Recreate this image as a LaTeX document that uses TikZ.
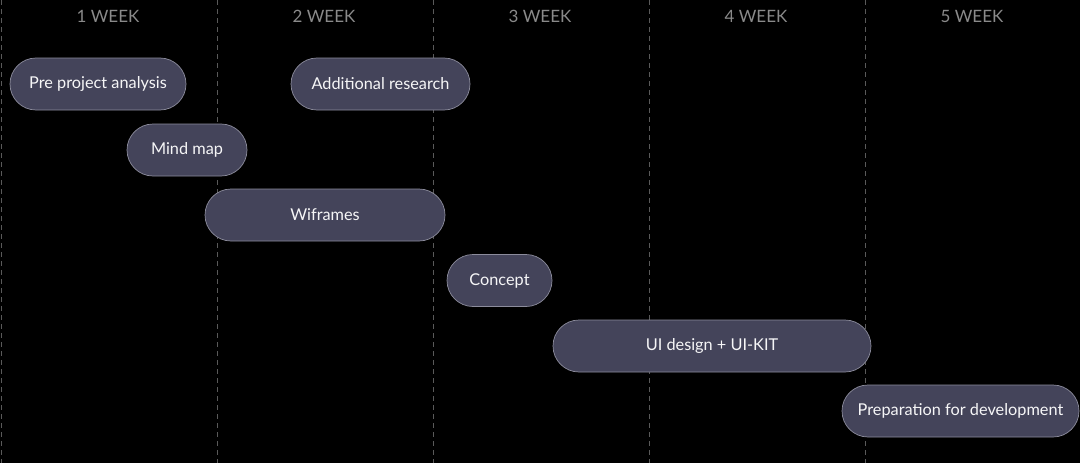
\documentclass[tikz,border=0pt]{standalone}
\usepackage{fontspec}
\setmainfont{Lato}
\definecolor{pill}{HTML}{44445A}
\definecolor{pillline}{HTML}{8C8C9C}
\definecolor{weekgray}{HTML}{8A8A8A}
\definecolor{gridgray}{HTML}{5A5A5A}
\begin{document}
\begin{tikzpicture}[x=1pt, y=-1pt,
  task/.style={draw=pillline, line width=.7pt, fill=pill, text=white!92!pillline,
    rounded corners=26pt, minimum height=52pt, inner sep=0pt, font=\fontsize{16.3}{18}\selectfont},
  week/.style={text=weekgray, font=\fontsize{17}{19}\selectfont}]
\fill[black] (0,0) rectangle (1080,463);
\useasboundingbox (0,0) rectangle (1080,463);
\foreach \i in {0,...,4}{
  \draw[gridgray, line width=.7pt, dash pattern=on 5pt off 4pt] (216*\i+1,0) -- (216*\i+1,463);
  \pgfmathtruncatemacro\n{\i+1}
  \node[week] (w\n) at (216*\i+108,16) {\n\ WEEK};
}
\node[task, minimum width=176pt] (pre) at (98,84) {Pre project analysis};
\node[task, minimum width=179pt] (add) at (380.5,84) {Additional research};
\node[task, minimum width=120pt] (mind) at (187,150) {Mind map};
\node[task, minimum width=240pt] (wire) at (325,215) {Wiframes};
\node[task, minimum width=105pt] (concept) at (499.5,280.5) {Concept};
\node[task, minimum width=318pt] (ui) at (712,346) {UI design + UI-KIT};
\node[task, minimum width=237pt] (prep) at (960.5,411) {Preparation for development};

\end{tikzpicture}
\end{document}
